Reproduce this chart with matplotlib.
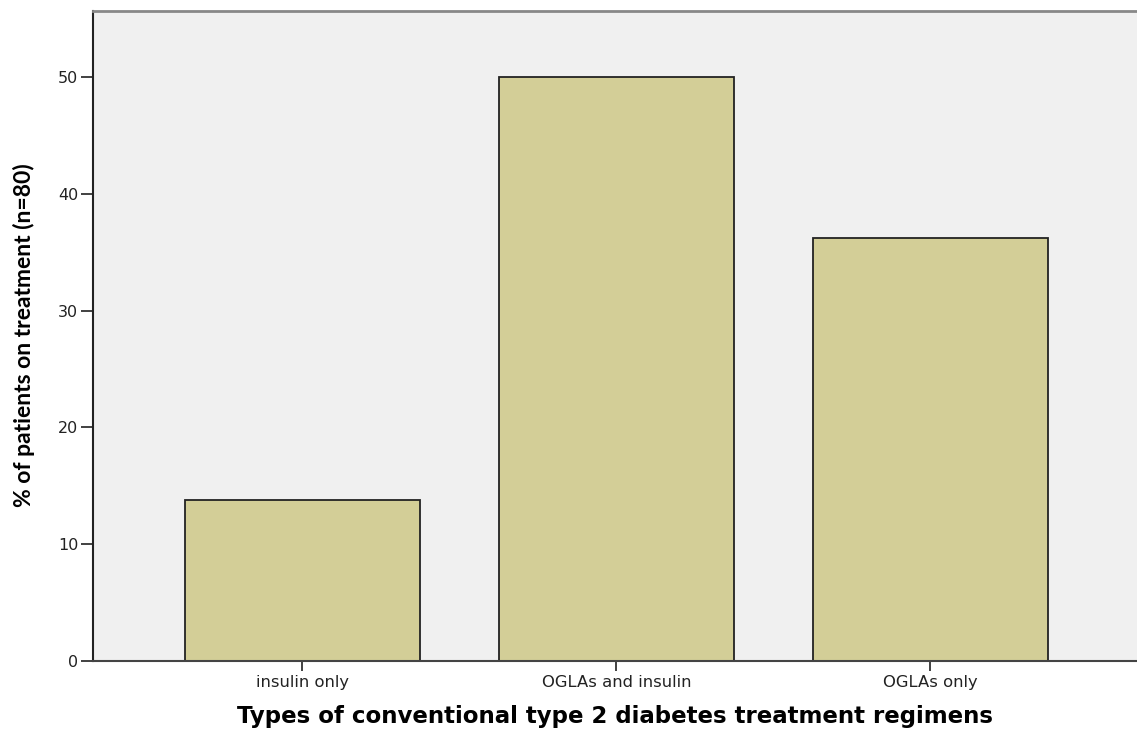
import matplotlib
matplotlib.use("Agg")
import matplotlib.pyplot as plt

# Данные
categories = ['insulin only', 'OGLAs and insulin', 'OGLAs only']
percents = [13.75, 50.0, 36.25]
y_ticks = [0, 10, 20, 30, 40, 50]

fig = plt.figure(figsize=(11.37, 7.31), dpi=100)
ax = fig.add_axes([93 / 1137, 1 - 661 / 731, 1 - 93 / 1137, 650 / 731])
ax.set_facecolor('#f0f0f0')

x = list(range(len(categories)))
ax.bar(x, percents, width=0.75, color='#d3ce97', edgecolor='#222222', linewidth=1.3, zorder=2)

ax.set_xlim(-0.667, 2.658)
ax.set_ylim(0, 55.65)
ax.set_xticks(x)
ax.set_xticklabels(categories, fontsize=11.8, family='DejaVu Sans', color='#222222')
ax.set_yticks(y_ticks)
ax.set_yticklabels([str(t) for t in y_ticks], fontsize=11.5, family='DejaVu Sans', color='#222222')
ax.tick_params(axis='y', direction='out', length=9, width=1.3, color='#333333', pad=1.5)
ax.tick_params(axis='x', direction='out', length=7, width=1.3, color='#333333', pad=3)

ax.spines['right'].set_visible(False)
ax.spines['top'].set_color('#888888')
ax.spines['top'].set_linewidth(2)
ax.spines['left'].set_color('#222222')
ax.spines['left'].set_linewidth(1.5)
ax.spines['bottom'].set_color('#444444')
ax.spines['bottom'].set_linewidth(1.5)

ax.set_xlabel('Types of conventional type 2 diabetes treatment regimens',
              fontsize=16.5, fontweight='bold', family='DejaVu Sans', labelpad=11)
fig.text(24 / 1137, 1 - 335 / 731, '% of patients on treatment (n=80)', rotation=90,
         ha='center', va='center', fontsize=16.5, fontweight='bold', family='Lato')

fig.savefig('out.png', dpi=100)
